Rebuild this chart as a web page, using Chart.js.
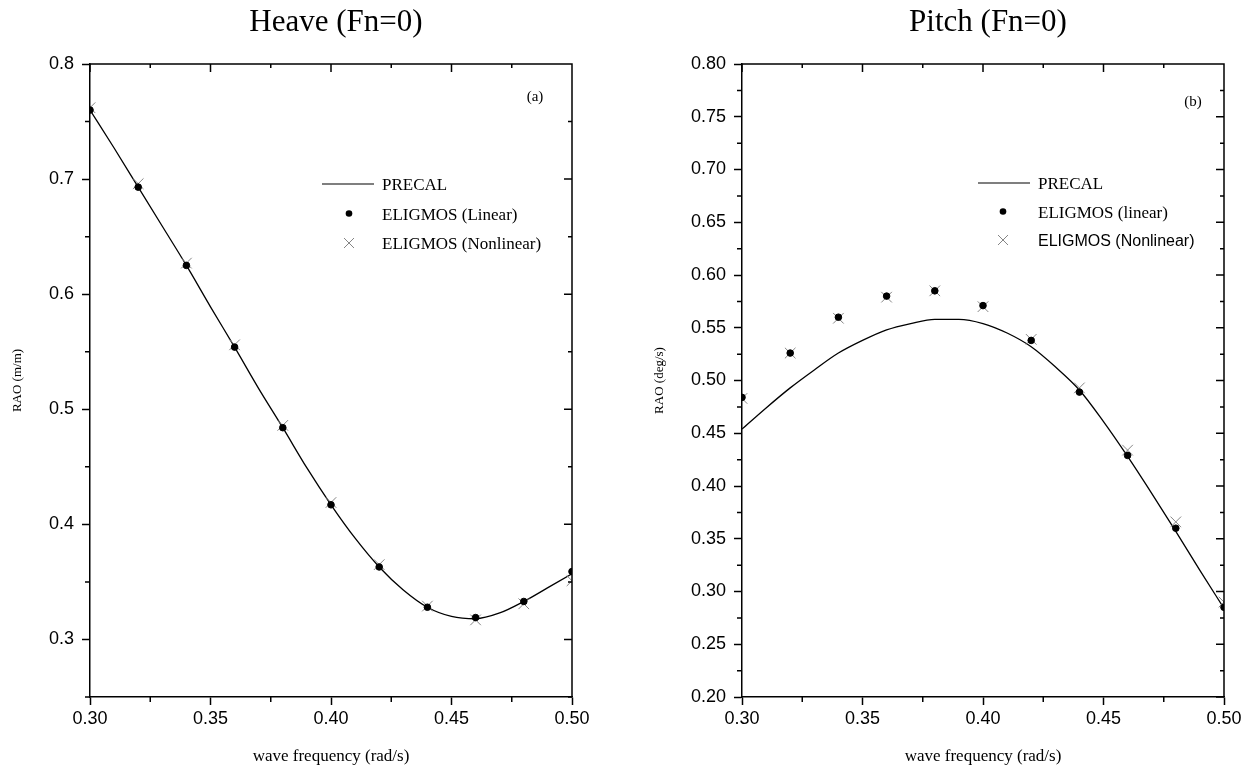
<!DOCTYPE html>
<html>
<head>
<meta charset="utf-8">
<script src="https://cdn.jsdelivr.net/npm/chart.js@4.4.1/dist/chart.umd.min.js"></script>
<style>
  body { margin: 0; background: #fff; }
  canvas { position: absolute; top: 0; }
  #heave { left: 0; }
  #pitch { left: 626px; }
</style>
</head>
<body>
<canvas id="heave" width="626" height="769"></canvas>
<canvas id="pitch" width="626" height="769"></canvas>
<script>
// wave frequency (rad/s)
const freqPoints = [0.30, 0.32, 0.34, 0.36, 0.38, 0.40, 0.42, 0.44, 0.46, 0.48, 0.50];
const freqCurve = [0.30, 0.31, 0.32, 0.33, 0.34, 0.35, 0.36, 0.37, 0.38, 0.39, 0.40,
  0.41, 0.42, 0.43, 0.44, 0.45, 0.46, 0.47, 0.48, 0.49, 0.50];

// heave (m/m)
const heavePrecal = [0.760, 0.727, 0.693, 0.659, 0.625, 0.589, 0.554, 0.518, 0.484, 0.449, 0.417,
  0.388, 0.363, 0.343, 0.328, 0.320, 0.318, 0.323, 0.333, 0.345, 0.357];
const heaveLinear = [0.760, 0.693, 0.625, 0.554, 0.484, 0.417, 0.363, 0.328, 0.319, 0.333, 0.359];
const heaveNonlinear = [0.762, 0.696, 0.627, 0.556, 0.486, 0.419, 0.365, 0.329, 0.317, 0.331, 0.351];

// pitch (deg/s)
const pitchPrecal = [0.454, 0.474, 0.493, 0.510, 0.526, 0.538, 0.548, 0.554, 0.558, 0.558, 0.554,
  0.545, 0.532, 0.513, 0.491, 0.461, 0.428, 0.393, 0.357, 0.320, 0.284];
const pitchLinear = [0.484, 0.526, 0.560, 0.580, 0.585, 0.571, 0.538, 0.489, 0.429, 0.360, 0.285];
const pitchNonlinear = [0.483, 0.526, 0.559, 0.579, 0.585, 0.570, 0.539, 0.493, 0.434, 0.366, 0.290];

const xTicks = [0.30, 0.35, 0.40, 0.45, 0.50];
const xMinor = [0.325, 0.375, 0.425, 0.475];
const heaveTicks = [0.3, 0.4, 0.5, 0.6, 0.7, 0.8];
const heaveMinor = [0.25, 0.35, 0.45, 0.55, 0.65, 0.75];
const pitchTicks = [0.20, 0.25, 0.30, 0.35, 0.40, 0.45, 0.50, 0.55, 0.60, 0.65, 0.70, 0.75, 0.80];
const pitchMinor = [0.225, 0.275, 0.325, 0.375, 0.425, 0.475, 0.525, 0.575, 0.625, 0.675, 0.725, 0.775];

const pts = (xs, ys) => xs.map((x, i) => ({ x: x, y: ys[i] }));
const crossColor = '#858585';

// frame, inner ticks, legend and labels
const decor = {
  id: 'decor',
  afterDraw(chart, args, o) {
    const { ctx, chartArea: a, scales: { x, y } } = chart;
    ctx.save();
    ctx.strokeStyle = '#000';
    ctx.lineWidth = 1.5;
    ctx.beginPath();
    ctx.moveTo(a.left, a.top);
    ctx.lineTo(a.right, a.top);
    ctx.lineTo(a.right, a.bottom);
    o.xMajor.forEach(v => {
      const p = x.getPixelForValue(v);
      ctx.moveTo(p, a.top); ctx.lineTo(p, a.top + 8);
    });
    o.xMinor.forEach(v => {
      const p = x.getPixelForValue(v);
      ctx.moveTo(p, a.top); ctx.lineTo(p, a.top + 4);
      ctx.moveTo(p, a.bottom); ctx.lineTo(p, a.bottom + 5);
    });
    o.yMajor.forEach(v => {
      const p = y.getPixelForValue(v);
      ctx.moveTo(a.right, p); ctx.lineTo(a.right - 8, p);
    });
    o.yMinor.forEach(v => {
      const p = y.getPixelForValue(v);
      ctx.moveTo(a.left, p); ctx.lineTo(a.left - 5, p);
      ctx.moveTo(a.right, p); ctx.lineTo(a.right - 4, p);
    });
    ctx.stroke();

    // title
    ctx.fillStyle = '#000';
    ctx.textAlign = 'center';
    ctx.textBaseline = 'middle';
    ctx.font = '31px "Liberation Serif"';
    ctx.fillText(o.title, (a.left + a.right) / 2 + 5, 23);

    ctx.font = '15px "Liberation Serif"';
    ctx.fillText(o.panel, o.panelX, o.panelY);

    // legend
    const L = o.legend;
    ctx.lineWidth = 1.2;
    ctx.beginPath();
    ctx.moveTo(L.x0, L.y); ctx.lineTo(L.x1, L.y);
    ctx.stroke();
    ctx.beginPath();
    ctx.arc(L.mx, L.y + L.gap, 3.3, 0, Math.PI * 2);
    ctx.fill();
    ctx.strokeStyle = crossColor;
    ctx.lineWidth = 1;
    const cy = L.y + 2 * L.gap, r = 5;
    ctx.beginPath();
    ctx.moveTo(L.mx - r, cy - r); ctx.lineTo(L.mx + r, cy + r);
    ctx.moveTo(L.mx - r, cy + r); ctx.lineTo(L.mx + r, cy - r);
    ctx.stroke();
    ctx.textAlign = 'left';
    L.labels.forEach((t, i) => {
      ctx.font = L.fonts[i];
      ctx.fillText(t, L.tx, L.y + 2 + i * L.gap);
    });
    ctx.restore();
  }
};

function makeChart(id, cfg) {
  const tickFont = { family: '"Liberation Sans"', size: 18 };
  return new Chart(document.getElementById(id), {
    type: 'scatter',
    data: {
      datasets: [
        {
          label: 'PRECAL',
          data: pts(freqCurve, cfg.precal),
          showLine: true,
          borderColor: '#000',
          borderWidth: 1.3,
          pointRadius: 0,
          cubicInterpolationMode: 'monotone',
          order: 3
        },
        {
          label: cfg.linLabel,
          data: pts(freqPoints, cfg.lin),
          backgroundColor: '#000',
          borderColor: '#000',
          pointRadius: 3.3,
          order: 1
        },
        {
          label: 'ELIGMOS (Nonlinear)',
          data: pts(freqPoints, cfg.nonlin),
          pointStyle: 'crossRot',
          borderColor: crossColor,
          borderWidth: 1,
          pointRadius: 7.5,
          order: 2
        }
      ]
    },
    options: {
      responsive: false,
      animation: false,
      layout: { padding: { left: 0, right: cfg.padRight, top: 64, bottom: 0 } },
      plugins: {
        legend: { display: false },
        tooltip: { enabled: false },
        decor: cfg.decor
      },
      scales: {
        x: {
          type: 'linear',
          min: 0.3,
          max: 0.5,
          afterBuildTicks: s => { s.ticks = xTicks.map(v => ({ value: v })); },
          afterFit: s => { s.height = 72; },
          ticks: { font: tickFont, color: '#000', padding: 3, callback: v => v.toFixed(2) },
          grid: { drawOnChartArea: false, tickLength: 8, tickWidth: 1.5, tickColor: '#000' },
          border: { color: '#000', width: 1.5 },
          title: {
            display: true,
            text: 'wave frequency (rad/s)',
            font: { family: '"Liberation Serif"', size: 17 },
            color: '#000',
            padding: { top: 0, bottom: 2 }
          }
        },
        y: {
          min: cfg.yMin,
          max: 0.8,
          afterBuildTicks: s => { s.ticks = cfg.yTicks.map(v => ({ value: v })); },
          afterFit: s => { s.width = cfg.yWidth; },
          ticks: { font: tickFont, color: '#000', padding: 8, callback: v => v.toFixed(cfg.digits) },
          grid: { drawOnChartArea: false, tickLength: 8, tickWidth: 1.5, tickColor: '#000' },
          border: { color: '#000', width: 1.5 },
          title: {
            display: true,
            text: cfg.yTitle,
            font: { family: '"Liberation Serif"', size: 13 },
            color: '#000',
            padding: { top: cfg.yTitlePad, bottom: 0 }
          }
        }
      }
    },
    plugins: [decor]
  });
}

makeChart('heave', {
  precal: heavePrecal, lin: heaveLinear, nonlin: heaveNonlinear,
  linLabel: 'ELIGMOS (Linear)',
  yMin: 0.25, yTicks: heaveTicks, digits: 1, yWidth: 90, padRight: 54,
  yTitle: 'RAO (m/m)', yTitlePad: 10,
  decor: {
    title: 'Heave (Fn=0)', panel: '(a)', panelX: 535, panelY: 97,
    xMajor: xTicks, xMinor: xMinor, yMajor: heaveTicks, yMinor: heaveMinor,
    legend: {
      x0: 322, x1: 374, mx: 349, y: 184, gap: 29.5, tx: 382,
      labels: ['PRECAL', 'ELIGMOS (Linear)', 'ELIGMOS (Nonlinear)'],
      fonts: ['17px "Liberation Serif"', '17px "Liberation Serif"', '17px "Liberation Serif"']
    }
  }
});

makeChart('pitch', {
  precal: pitchPrecal, lin: pitchLinear, nonlin: pitchNonlinear,
  linLabel: 'ELIGMOS (linear)',
  yMin: 0.2, yTicks: pitchTicks, digits: 2, yWidth: 116, padRight: 28,
  yTitle: 'RAO (deg/s)', yTitlePad: 26,
  decor: {
    title: 'Pitch (Fn=0)', panel: '(b)', panelX: 567, panelY: 102,
    xMajor: xTicks, xMinor: xMinor, yMajor: pitchTicks, yMinor: pitchMinor,
    legend: {
      x0: 352, x1: 404, mx: 377, y: 183, gap: 28.5, tx: 412,
      labels: ['PRECAL', 'ELIGMOS (linear)', 'ELIGMOS (Nonlinear)'],
      fonts: ['17px "Liberation Serif"', '17px "Liberation Serif"', '16px "Liberation Sans"']
    }
  }
});
</script>
</body>
</html>
